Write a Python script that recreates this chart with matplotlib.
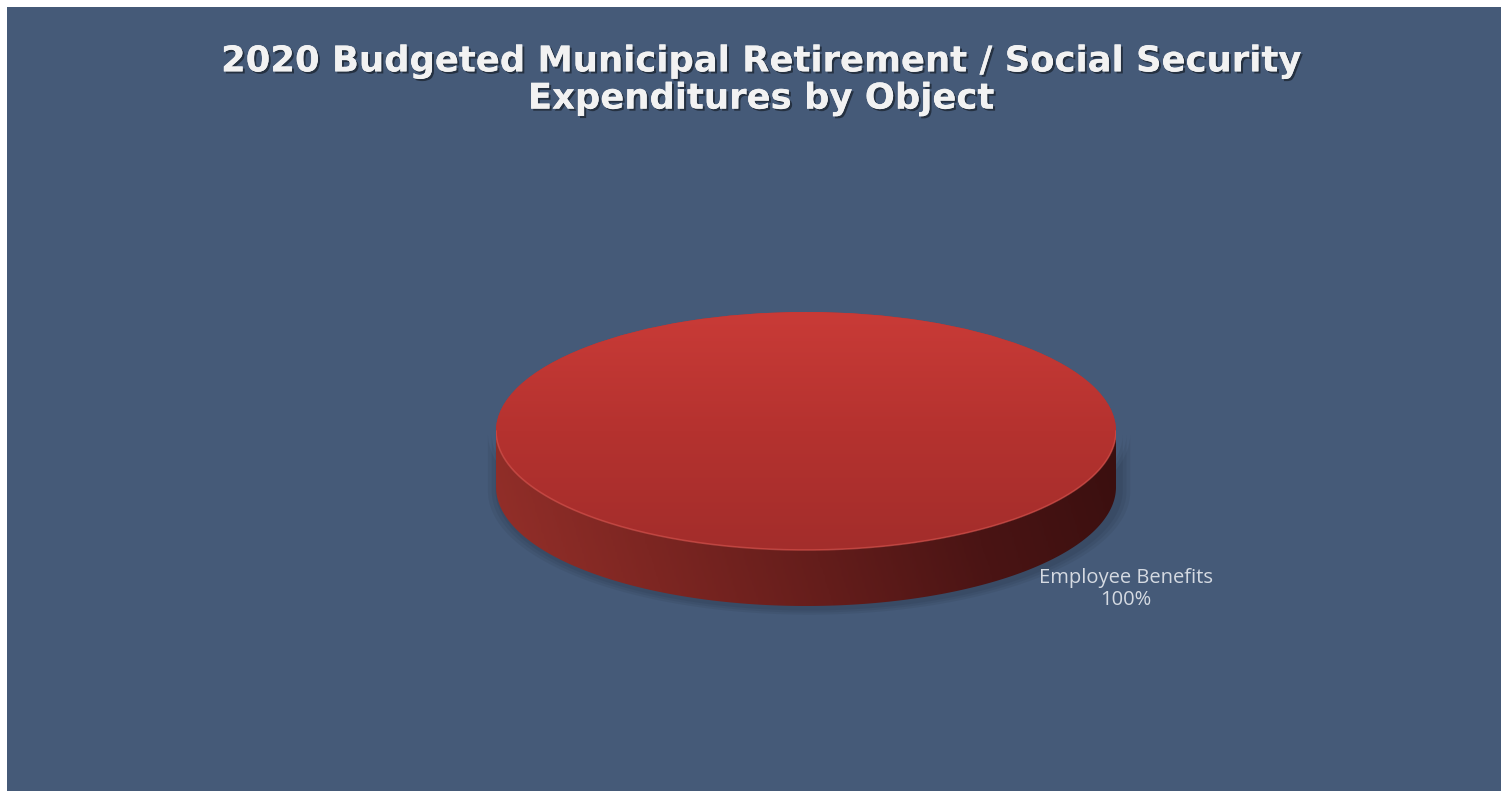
import numpy as np
import matplotlib.pyplot as plt
import matplotlib.patheffects as pe
from matplotlib.patches import Rectangle, Polygon
from matplotlib.colors import LinearSegmentedColormap

title = "2020 Budgeted Municipal Retirement / Social Security\nExpenditures by Object"
categories = ["Employee Benefits"]
values = [100.0]

bg = "#455a78"
W, H = 1501, 791

fig = plt.figure(figsize=(W / 100, H / 100), dpi=100, facecolor="white")
fig.patches.append(Rectangle((7 / W, 0), 1, (H - 7) / H, transform=fig.transFigure,
                             facecolor=bg, edgecolor="none", zorder=-1))

fig.text(0.507, 1 - 80 / H, title, ha="center", va="center", fontsize=25.5,
         fontweight="bold", family="DejaVu Sans", color="#f2f2f2", linespacing=1.12,
         path_effects=[pe.withSimplePatchShadow(offset=(1.5, -1.5), shadow_rgbFace="black", alpha=0.45),
                       pe.Normal()])

# pie axes: top ellipse spans 496..1116 px wide, 312..550 px tall, side depth below
depth = 294 / 119 - 2
ax = fig.add_axes([496 / W, (H - 606) / H, 620 / W, 294 / H], zorder=1)
wedges, _ = ax.pie(values, colors=["#b8332f"], radius=1, startangle=90,
                   counterclock=False, wedgeprops=dict(linewidth=0))
ax.set_aspect("auto")
ax.axis("off")

t = np.linspace(np.pi, 2 * np.pi, 200)
side_pts = np.vstack([np.column_stack([np.cos(t), np.sin(t)]),
                      np.column_stack([np.cos(t[::-1]), np.sin(t[::-1]) - depth])])

# soft drop shadow under the disc
for k in range(3):
    s = 1 + 0.012 * (k + 1)
    sh = Polygon(np.column_stack([side_pts[:, 0] * s + 0.01, side_pts[:, 1] * s - 0.02]),
                 closed=True, facecolor="black", edgecolor="none", alpha=0.05, zorder=0.5,
                 clip_on=False)
    ax.add_patch(sh)

side = Polygon(side_pts, closed=True, facecolor="none", edgecolor="none", zorder=1)
ax.add_patch(side)
side_cmap = LinearSegmentedColormap.from_list(
    "side", ["#96302a", "#7d2622", "#641d1b", "#4a1414", "#3a0f0f"])
gx = np.linspace(0, 1, 300)[None, :]
gy = np.linspace(0, 1, 60)[:, None]
grad = gx * 0.92 + (1 - gy) * 0.08
im = ax.imshow(grad, cmap=side_cmap, extent=(-1, 1, -1 - depth, 0), origin="upper",
               aspect="auto", zorder=1, interpolation="bilinear")
im.set_clip_path(side)

# top face with a vertical gradient
wedges[0].set_zorder(2)
top_cmap = LinearSegmentedColormap.from_list("top", ["#c93b37", "#b5322f", "#a32d2b"])
im2 = ax.imshow(np.linspace(0, 1, 200)[:, None], cmap=top_cmap, extent=(-1, 1, -1, 1),
                origin="upper", aspect="auto", zorder=2.5, interpolation="bilinear")
im2.set_clip_path(wedges[0])

# light rim on the front edge of the top face
ax.plot(np.cos(t), np.sin(t), color="#d8544d", lw=1.2, alpha=0.6, zorder=3,
        solid_capstyle="round")
ax.set_aspect("auto")
ax.set_xlim(-1, 1)
ax.set_ylim(-1 - depth, 1)

pct = values[0] / sum(values) * 100
fig.text(1126 / W, 1 - 589 / H, f"{categories[0]}\n{pct:.0f}%", ha="center", va="center",
         fontsize=14.5, family="Open Sans", color="#d5dae2", linespacing=1.15)

fig.savefig("out.png", dpi=100, facecolor="white")
